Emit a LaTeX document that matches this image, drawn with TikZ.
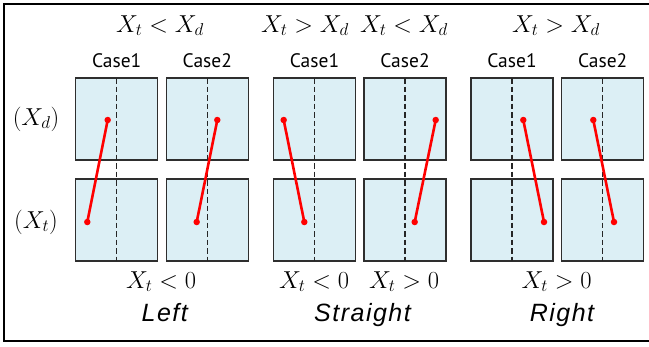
\documentclass[tikz,border=0pt]{standalone}
\usepackage{fix-cm}
\usepackage{fontspec}
\newfontfamily\casefont{PT Sans}
\newfontfamily\wordfont[LetterSpace=6]{Liberation Sans}
\definecolor{cellfill}{HTML}{DCEFF5}
\definecolor{celldraw}{HTML}{2E2E2E}
\definecolor{pathred}{HTML}{FF0000}
\tikzset{
  cell/.style={draw=celldraw, line width=1.4pt, fill=cellfill, minimum size=82pt, inner sep=0pt, outer sep=0pt},
  midline/.style={draw=black!85, line width=1.3pt, dash pattern=on 5.5pt off 3pt},
  dot/.style={circle, fill=pathred, inner sep=0pt, minimum size=6.5pt},
  link/.style={draw=pathred, line width=2.6pt},
  mathlab/.style={font=\fontsize{24.5}{28}\selectfont, anchor=base, inner sep=0pt},
  caselab/.style={font=\casefont\fontsize{19.5}{23}\selectfont, anchor=base, inner sep=0pt},
  wordlab/.style={font=\wordfont\itshape\fontsize{25}{29}\selectfont, anchor=base, inner sep=0pt},
  sidelab/.style={font=\fontsize{24.5}{28}\selectfont, inner sep=0pt},
}
\begin{document}
\begin{tikzpicture}[x=1pt,y=-1pt]
\useasboundingbox (0,0) rectangle (649,346);
\draw[line width=2pt] (700,4) -- (4,4) -- (4,341) -- (700,341);
% boxes
\foreach \i/\cx in {1/116.7,2/207.3,3/314.5,4/405,5/512,6/602.7}{
  \node[cell] (u\i) at (\cx,119) {};
  \node[cell] (b\i) at (\cx,220) {};
  \draw[midline] (u\i.north) -- (b\i.south);
}
% dots and links
\foreach \i/\cx/\tx/\bx in {1/116.7/-9/-29.4,2/207.3/10/-10.6,3/314.5/-30.8/-10.2,4/405/30.7/9.7,5/512/11.3/32,6/602.7/-9.4/11.3}{
  \node[dot] (p\i) at (\cx+\tx,120) {};
  \node[dot] (q\i) at (\cx+\bx,222) {};
  \draw[link] (p\i.center) -- (q\i.center);
}
% top labels
\node[mathlab] (h1) at (160,32) {$X_t < X_d$};
\node[mathlab] (h2) at (305,32) {$X_t > X_d$};
\node[mathlab] (h3) at (404,32) {$X_t < X_d$};
\node[mathlab] (h4) at (556,32) {$X_t > X_d$};
% case labels
\node[caselab] (c1) at (116.7,67.7) {Case1};
\node[caselab] (c2) at (207.3,67.7) {Case2};
\node[caselab] (c3) at (314.5,67.7) {Case1};
\node[caselab] (c4) at (405,67.7) {Case2};
\node[caselab] (c5) at (512,67.7) {Case1};
\node[caselab] (c6) at (602.7,67.7) {Case2};
% side labels
\node[sidelab] (sd) at (36,119) {$(X_d)$};
\node[sidelab] (st) at (36,222) {$(X_t)$};
% bottom labels
\node[mathlab] (f1) at (161,288) {$X_t < 0$};
\node[mathlab] (f2) at (314,288) {$X_t < 0$};
\node[mathlab] (f3) at (404,288) {$X_t > 0$};
\node[mathlab] (f4) at (556.5,288) {$X_t > 0$};
\node[wordlab] (w1) at (164.7,321) {Left};
\node[wordlab] (w2) at (362.5,321) {Straight};
\node[wordlab] (w3) at (562,321) {Right};
\end{tikzpicture}
\end{document}
